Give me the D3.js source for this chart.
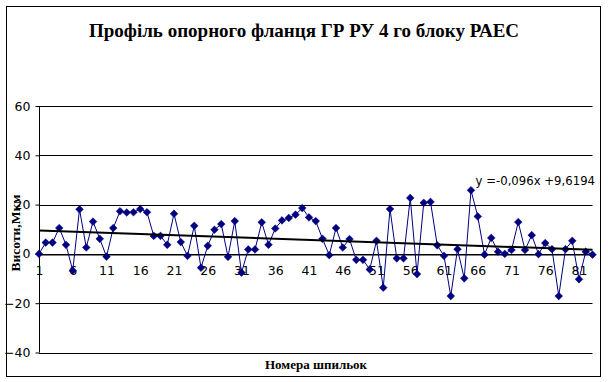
<!DOCTYPE html>
<html>
<head>
<meta charset="utf-8">
<script src="https://cdn.jsdelivr.net/npm/d3@7"></script>
<style>
  html, body { margin: 0; padding: 0; background: #fff; }
  svg { display: block; }
</style>
</head>
<body>
<svg id="chart" width="608" height="382"></svg>
<script>
// ---- data ----
const title = "Профіль опорного фланця ГР РУ 4 го блоку РАЕС";
const yTitle = "Висоти,Мкм";
const xTitle = "Номера шпильок";
const studs = d3.range(1, 84);
const heights = [
  0, 4.6, 4.6, 10.5, 3.7, -6.8, 18.1, 2.6, 13.1, 6.1,
  -1.1, 10.5, 17.3, 16.8, 16.9, 18.2, 16.9, 7.3, 7.3, 3.7,
  16.3, 4.8, -0.8, 11.4, -5.6, 3.3, 9.8, 12.1, -1.2, 13.3,
  -7.6, 1.8, 1.8, 12.8, 3.7, 10.3, 13.6, 14.6, 15.9, 18.6,
  14.8, 13.3, 6.1, -0.5, 10.5, 2.6, 6.0, -2.4, -2.4, -6.3,
  5.3, -13.7, 18.2, -1.8, -1.8, 22.7, -8.2, 20.7, 21.1, 3.5,
  -0.8, -17.1, 1.9, -9.9, 25.8, 15.2, -0.3, 6.5, 0.9, 0,
  1.6, 12.9, 1.6, 7.6, -0.1, 4.4, 1.9, -17.1, 1.9, 5.3,
  -10.3, 0.9, -0.3
];
const xTickValues = [1, 6, 11, 16, 21, 26, 31, 36, 41, 46, 51, 56, 61, 66, 71, 76, 81];
const yTickValues = [-40, -20, 0, 20, 40, 60];
const trendCoef = [-0.096, 9.6194]; // slope, intercept
const trendLabel = "y =-0,096x +9,6194";

// ---- layout ----
const svg = d3.select("#chart");
const x = d3.scaleLinear().domain([1, 83]).range([39, 592.5]);
const y = d3.scaleLinear().domain([-40, 60]).range([352.5, 106]);

// outer border
svg.append("rect").attr("x", 6.5).attr("y", 6.5).attr("width", 594).attr("height", 370)
  .attr("fill", "#fff").attr("stroke", "#000").attr("stroke-width", 1);

// title
svg.append("text").attr("x", 304).attr("y", 37).attr("text-anchor", "middle")
  .style("font-family", "'Liberation Serif', 'Times New Roman', serif")
  .style("font-weight", "bold").style("font-size", "19px").text(title);

// gridlines
svg.append("g").selectAll("line").data(yTickValues).join("line")
  .attr("x1", x.range()[0]).attr("x2", x.range()[1])
  .attr("y1", d => Math.round(y(d)) + 0.5).attr("y2", d => Math.round(y(d)) + 0.5)
  .attr("stroke", "#000").attr("stroke-width", 1);

// y axis
const yAxis = svg.append("g").attr("transform", "translate(39.5,0)")
  .call(d3.axisLeft(y).tickValues(yTickValues).tickSize(4).tickPadding(5).tickFormat(d3.format("d")));
yAxis.selectAll("text").style("font-family", "'DejaVu Sans', sans-serif").style("font-size", "12.5px").attr("fill", "#000");
yAxis.selectAll("line, path").attr("stroke", "#000");
yAxis.select(".domain").attr("d", `M0,${y(60)}V${y(-40)}`);

// x axis (crosses at 0)
const xAxis = svg.append("g").attr("transform", `translate(0,${Math.round(y(0)) + 0.5})`)
  .call(d3.axisBottom(x).tickValues(xTickValues).tickSize(0).tickPadding(12).tickFormat(d3.format("d")));
xAxis.selectAll("text").style("font-family", "'DejaVu Sans', sans-serif").style("font-size", "12.5px").attr("fill", "#000");
xAxis.select(".domain").attr("stroke", "#000");

// data line
const pts = studs.map((s, i) => [s, heights[i]]);
svg.append("path").datum(pts)
  .attr("fill", "none").attr("stroke", "#000080").attr("stroke-width", 1)
  .attr("d", d3.line().x(d => x(d[0])).y(d => y(d[1])));

// markers
const diamond = d3.symbol().type(d3.symbolDiamond2).size(38);
svg.append("g").selectAll("path").data(pts).join("path")
  .attr("transform", d => `translate(${x(d[0])},${y(d[1])})`)
  .attr("d", diamond).attr("fill", "#000080").attr("stroke", "#000080").attr("stroke-width", 0.5);

// trend line
const xd = x.domain();
svg.append("line")
  .attr("x1", x(xd[0])).attr("y1", y(trendCoef[0] * xd[0] + trendCoef[1]))
  .attr("x2", x(xd[1])).attr("y2", y(trendCoef[0] * xd[1] + trendCoef[1]))
  .attr("stroke", "#000").attr("stroke-width", 2);

svg.append("text").attr("x", 595).attr("y", 185).attr("text-anchor", "end")
  .style("font-family", "'DejaVu Sans', sans-serif").style("font-size", "11.7px")
  .text(trendLabel);

// axis titles
svg.append("text").attr("transform", "translate(20,233) rotate(-90)").attr("text-anchor", "middle")
  .style("font-family", "'Liberation Serif', 'Times New Roman', serif")
  .style("font-weight", "bold").style("font-size", "13.5px").text(yTitle);

svg.append("text").attr("x", 316).attr("y", 369).attr("text-anchor", "middle")
  .style("font-family", "'Liberation Serif', 'Times New Roman', serif")
  .style("font-weight", "bold").style("font-size", "13px").text(xTitle);
</script>
</body>
</html>
